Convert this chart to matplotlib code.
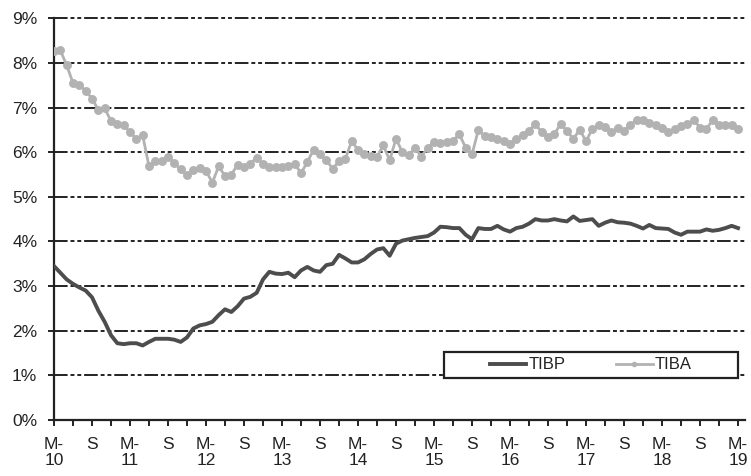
import matplotlib
matplotlib.use("Agg")
import matplotlib.pyplot as plt
from matplotlib.patches import Rectangle
from matplotlib.ticker import FixedLocator, MultipleLocator, FuncFormatter

# Monthly series, March 2010 .. March 2019 (values in %)
tibp = [3.45, 3.30, 3.15, 3.05, 2.97, 2.90, 2.75, 2.45, 2.20, 1.90,
        1.72, 1.70, 1.72, 1.72, 1.67, 1.75, 1.82, 1.82, 1.82, 1.80,
        1.75, 1.85, 2.05, 2.12, 2.15, 2.20, 2.35, 2.48, 2.42, 2.55,
        2.72, 2.76, 2.85, 3.15, 3.32, 3.28, 3.27, 3.30, 3.20, 3.35,
        3.43, 3.35, 3.32, 3.47, 3.50, 3.70, 3.62, 3.53, 3.53, 3.60,
        3.72, 3.82, 3.85, 3.68, 3.95, 4.02, 4.05, 4.08, 4.10, 4.12,
        4.20, 4.33, 4.32, 4.30, 4.30, 4.15, 4.05, 4.30, 4.28, 4.28,
        4.35, 4.27, 4.22, 4.30, 4.33, 4.40, 4.50, 4.47, 4.47, 4.50,
        4.47, 4.45, 4.56, 4.46, 4.48, 4.50, 4.35, 4.42, 4.47, 4.43,
        4.42, 4.40, 4.35, 4.29, 4.37, 4.30, 4.29, 4.28, 4.20, 4.15,
        4.22, 4.22, 4.22, 4.27, 4.24, 4.26, 4.30, 4.35, 4.30]

tiba = [8.27, 8.28, 7.95, 7.55, 7.50, 7.38, 7.20, 6.95, 6.98, 6.70,
        6.63, 6.60, 6.45, 6.30, 6.38, 5.68, 5.80, 5.80, 5.90, 5.75,
        5.62, 5.48, 5.60, 5.65, 5.58, 5.32, 5.68, 5.47, 5.50, 5.72,
        5.66, 5.74, 5.88, 5.74, 5.67, 5.66, 5.66, 5.70, 5.74, 5.53,
        5.78, 6.06, 5.95, 5.82, 5.63, 5.80, 5.85, 6.25, 6.05, 5.95,
        5.92, 5.90, 6.15, 5.82, 6.30, 6.00, 5.93, 6.10, 5.90, 6.10,
        6.22, 6.20, 6.22, 6.26, 6.40, 6.10, 5.95, 6.50, 6.36, 6.34,
        6.30, 6.24, 6.18, 6.30, 6.38, 6.48, 6.63, 6.45, 6.34, 6.40,
        6.64, 6.47, 6.30, 6.50, 6.25, 6.52, 6.60, 6.57, 6.45, 6.55,
        6.47, 6.62, 6.72, 6.72, 6.65, 6.60, 6.55, 6.45, 6.52, 6.58,
        6.63, 6.72, 6.55, 6.52, 6.72, 6.60, 6.62, 6.60, 6.52]

months = list(range(len(tibp)))
tick_labels = ["M-\n10", "S", "M-\n11", "S", "M-\n12", "S", "M-\n13", "S",
               "M-\n14", "S", "M-\n15", "S", "M-\n16", "S", "M-\n17", "S",
               "M-\n18", "S", "M-\n19"]
y_ticks = [0, 1, 2, 3, 4, 5, 6, 7, 8, 9]

plt.rcParams['font.family'] = ['Liberation Sans', 'DejaVu Sans']

fig = plt.figure(figsize=(7.51, 4.76), dpi=100)
ax = fig.add_axes([0.0719, 0.1176, 0.9201, 0.8440])

ax.plot(months, tibp, color='#4d4d4d', lw=2.8, label='TIBP', zorder=4,
        solid_joinstyle='round')
ax.plot(months, tiba, color='#b2b2b2', lw=2.0, marker='o', markersize=5.4,
        markerfacecolor='#b2b2b2', markeredgecolor='#b2b2b2', label='TIBA',
        zorder=3)

ax.set_xlim(0, 109.1)
ax.set_ylim(0, 9.0)

ax.xaxis.set_major_locator(FixedLocator([6 * i for i in range(len(tick_labels))]))
ax.set_xticklabels(tick_labels)
ax.xaxis.set_minor_locator(MultipleLocator(3))
ax.yaxis.set_major_locator(FixedLocator(y_ticks))
ax.yaxis.set_major_formatter(FuncFormatter(lambda v, p: f"{int(round(v))}%"))

ax.tick_params(axis='x', which='both', direction='out', length=4, width=1.4,
               color='#222222', pad=8, labelsize=12.5, labelcolor='#222222')
ax.tick_params(axis='y', which='major', direction='out', length=4, width=1.4,
               color='#222222', pad=8, labelsize=12.5, labelcolor='#222222')
for lbl in ax.get_xticklabels():
    lbl.set_verticalalignment('top')
    lbl.set_linespacing(1.15)

ax.spines['top'].set_visible(False)
ax.spines['right'].set_visible(False)
ax.spines['left'].set_color('#222222')
ax.spines['bottom'].set_color('#222222')
ax.spines['left'].set_linewidth(1.6)
ax.spines['bottom'].set_linewidth(1.6)

ax.yaxis.grid(True, color='#222222', lw=1.4,
              linestyle=(0, (7, 1.5, 2, 1.5, 2, 1.5)), zorder=1)
ax.set_axisbelow(True)
for gl in ax.yaxis.get_gridlines():
    gl.set_clip_on(False)

# legend frame
ax.add_patch(Rectangle((0.564, 0.105), 0.426, 0.064, transform=ax.transAxes,
                       facecolor='white', edgecolor='#222222', lw=1.6,
                       zorder=5, clip_on=False))
leg = ax.legend(loc='center', bbox_to_anchor=(0.777, 0.137), ncol=2,
                frameon=False, fontsize=12, handlelength=2.2,
                handletextpad=0.15, columnspacing=3.0, markerscale=0.55,
                borderaxespad=0)
leg.set_zorder(6)
for t in leg.get_texts():
    t.set_color('#222222')

fig.savefig('out.png', dpi=100)
